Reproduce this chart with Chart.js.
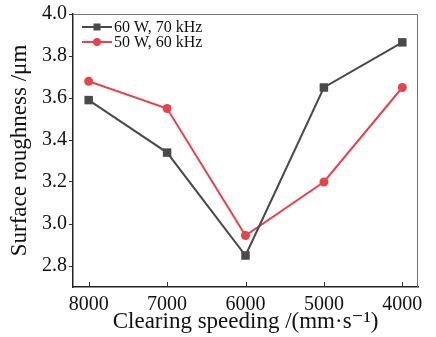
<!DOCTYPE html>
<html>
<head>
<meta charset="utf-8">
<script src="https://cdn.jsdelivr.net/npm/chart.js@4/dist/chart.umd.min.js"></script>
<style>
html,body{margin:0;padding:0;background:#fff;}
#wrap{width:436px;height:337px;}
</style>
</head>
<body>
<div id="wrap"><canvas id="c" width="436" height="337"></canvas></div>
<script>
const speeds = [8000, 7000, 6000, 5000, 4000];
const series1Label = "60 W, 70 kHz";
const series1 = [3.59, 3.34, 2.85, 3.65, 3.865];
const series2Label = "50 W, 60 kHz";
const series2 = [3.68, 3.55, 2.945, 3.20, 3.65];
const yTicks = [2.8, 3.0, 3.2, 3.4, 3.6, 3.8, 4.0];
const xTitle = "Clearing speeding /(mm\u00b7s\u207b\u00b9)";
const yTitle = "Surface roughness /\u03bcm";

const GRAY = "#4a4a4a";
const RED = "#e8434b";
const FONT = "'Liberation Serif', 'DejaVu Serif', serif";

const framePlugin = {
  id: 'frame',
  afterDatasetsDraw(chart) {
    const {ctx, chartArea: a, scales} = chart;
    ctx.save();
    ctx.strokeStyle = "#777";
    ctx.lineWidth = 1;
    ctx.beginPath();
    ctx.moveTo(a.left, a.top + 0.5);
    ctx.lineTo(a.right - 0.5, a.top + 0.5);
    ctx.lineTo(a.right - 0.5, a.bottom);
    ctx.stroke();
    ctx.strokeStyle = "#333";
    ctx.lineWidth = 1;
    scales.x.ticks.forEach(t => {
      const px = Math.round(scales.x.getPixelForValue(t.value)) + 0.5;
      ctx.beginPath();
      ctx.moveTo(px, a.bottom);
      ctx.lineTo(px, a.bottom - 5);
      ctx.stroke();
    });
    const items = chart.data.datasets;
    ctx.font = "16px " + FONT;
    ctx.textBaseline = "middle";
    items.forEach((ds, i) => {
      const y = a.top + 13 + i * 15;
      const x0 = a.left + 9, x1 = a.left + 39, xm = (x0 + x1) / 2;
      ctx.strokeStyle = ds.borderColor;
      ctx.lineWidth = 2;
      ctx.beginPath();
      ctx.moveTo(x0, y); ctx.lineTo(x1, y); ctx.stroke();
      ctx.fillStyle = ds.backgroundColor;
      if (ds.pointStyle === 'rect') {
        ctx.fillRect(xm - 3.5, y - 3.5, 7, 7);
      } else {
        ctx.beginPath(); ctx.arc(xm, y, 4, 0, Math.PI * 2); ctx.fill();
      }
      ctx.fillStyle = "#111";
      ctx.fillText(ds.label, x1 + 2, y + 1);
    });
    ctx.restore();
  }
};

new Chart(document.getElementById('c'), {
  type: 'line',
  data: {
    datasets: [
      {
        label: series1Label,
        data: speeds.map((s, i) => ({x: s, y: series1[i]})),
        borderColor: GRAY, backgroundColor: GRAY,
        borderWidth: 2, pointStyle: 'rect', pointRadius: 6, pointBorderWidth: 0,
        tension: 0
      },
      {
        label: series2Label,
        data: speeds.map((s, i) => ({x: s, y: series2[i]})),
        borderColor: RED, backgroundColor: RED,
        borderWidth: 2, pointStyle: 'circle', pointRadius: 4.5, pointBorderWidth: 0,
        tension: 0
      }
    ]
  },
  options: {
    responsive: false,
    animation: false,
    devicePixelRatio: 1,
    layout: {padding: {top: 11, right: 18, left: 0, bottom: 0}},
    plugins: {legend: {display: false}, tooltip: {enabled: false}},
    scales: {
      x: {
        type: 'linear',
        reverse: true,
        min: 3800, max: 8200,
        afterBuildTicks: s => { s.ticks = speeds.map(v => ({value: v})); },
        afterFit: s => { s.height = 50; },
        grid: {display: true, drawOnChartArea: false, drawTicks: false},
        border: {display: true, color: "#222", width: 1.5},
        ticks: {
          color: "#111", padding: 6, maxRotation: 0,
          font: {family: FONT, size: 20},
          callback: v => String(v)
        },
        title: {
          display: true, text: xTitle, color: "#111",
          font: {family: FONT, size: 23}, padding: {top: 0, bottom: 1}
        }
      },
      y: {
        min: 2.7, max: 4.0,
        afterBuildTicks: s => { s.ticks = yTicks.map(v => ({value: v})); },
        afterFit: s => { s.width = 73; },
        grid: {display: true, drawOnChartArea: false, drawTicks: true, tickLength: 4, color: "#333"},
        border: {display: true, color: "#222", width: 1.5},
        ticks: {
          color: "#111", padding: 2,
          font: {family: FONT, size: 20},
          callback: v => Number(v).toFixed(1)
        },
        title: {
          display: true, text: yTitle, color: "#111",
          font: {family: FONT, size: 23}, padding: {top: 6, bottom: 0}
        }
      }
    }
  },
  plugins: [framePlugin]
});
</script>
</body>
</html>
